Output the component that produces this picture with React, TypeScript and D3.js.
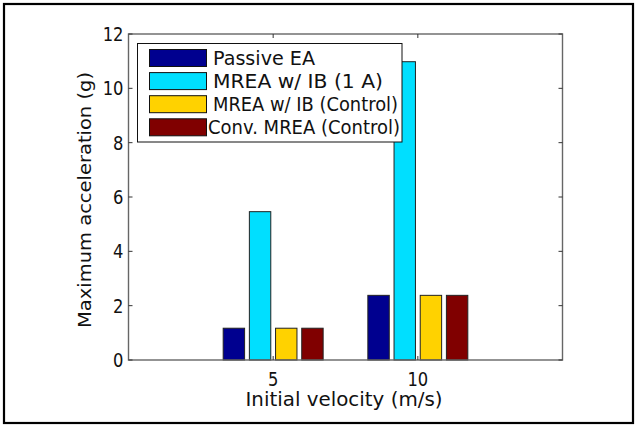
import React from "react";
import * as d3 from "d3";

const categories = [5, 10];
const seriesNames = ["Passive EA", "MREA w/ IB (1 A)", "MREA w/ IB (Control)", "Conv. MREA (Control)"];
const passiveEA = [1.17, 2.38];
const mreaIB1A = [5.46, 10.98];
const mreaIBControl = [1.17, 2.38];
const convMREAControl = [1.17, 2.38];
const seriesValues = [passiveEA, mreaIB1A, mreaIBControl, convMREAControl];
const colors = ["#00008f", "#00dfff", "#ffd200", "#800000"];
const yTicks = [0, 2, 4, 6, 8, 10, 12];
const xTicks = [5, 10];

const W = 637, H = 427;
const left = 128.5, right = 562.5, top = 34, bottom = 360;

export default function App() {
  const x = d3.scaleLinear().domain([0, 15]).range([left, right]);
  const y = d3.scaleLinear().domain([0, 12]).range([bottom, top]);
  const barW = 0.74;
  const step = 0.905;
  const font = "DejaVu Sans, sans-serif";
  const legendTextWidths = [102, 170, 185, 192];
  const legendTextX = [213, 213, 213, 208];
  const digitW = 10.4;
  return (
    <svg width={W} height={H} style={{ position: "absolute", left: 0, top: 0, background: "#fff" }}>
      <rect x={0} y={0} width={W} height={H} fill="#fff" />
      <rect x={4} y={4} width={629} height={419} fill="none" stroke="#000" strokeWidth={2.2} />
      {/* bars */}
      {seriesValues.map((vals, si) =>
        vals.map((v, ci) => {
          const cx = categories[ci] + (si - 1.5) * step;
          const x0 = x(cx - barW / 2);
          const x1 = x(cx + barW / 2);
          return (
            <rect key={`${si}-${ci}`} x={x0} y={y(v)} width={x1 - x0} height={y(0) - y(v)}
              fill={colors[si]} stroke="#222" strokeWidth={1} />
          );
        })
      )}
      {/* axes box */}
      <rect x={left} y={top} width={right - left} height={bottom - top} fill="none" stroke="#666" strokeWidth={1.4} />
      {/* y ticks */}
      {yTicks.map((t) => (
        <g key={"y" + t}>
          <line x1={left} x2={left + 4} y1={y(t)} y2={y(t)} stroke="#333" strokeWidth={1} />
          <line x1={right} x2={right - 4} y1={y(t)} y2={y(t)} stroke="#333" strokeWidth={1} />
          <text x={123.5 - String(t).length * digitW} y={y(t) + 7} fontFamily={font} fontSize={19} fill="#111"
            textLength={String(t).length * digitW} lengthAdjust="spacingAndGlyphs">{t}</text>
        </g>
      ))}
      {/* x ticks */}
      {xTicks.map((t) => (
        <g key={"x" + t}>
          <line x1={x(t)} x2={x(t)} y1={bottom} y2={bottom - 4} stroke="#333" strokeWidth={1} />
          <line x1={x(t)} x2={x(t)} y1={top} y2={top + 4} stroke="#333" strokeWidth={1} />
          <text x={x(t) - (String(t).length * digitW) / 2} y={385.5} fontFamily={font} fontSize={19} fill="#111"
            textLength={String(t).length * digitW} lengthAdjust="spacingAndGlyphs">{t}</text>
        </g>
      ))}
      {/* axis labels */}
      <text x={344} y={406} textAnchor="middle" fontFamily={font} fontSize={19} fill="#111" textLength={197} lengthAdjust="spacingAndGlyphs">Initial velocity (m/s)</text>
      <text transform={`translate(91,200) rotate(-90)`} textAnchor="middle" fontFamily={font} fontSize={18} fill="#111" textLength={256} lengthAdjust="spacingAndGlyphs">Maximum acceleration (g)</text>
      {/* legend */}
      <rect x={137.5} y={43.5} width={264.5} height={98.5} fill="#fff" stroke="#111" strokeWidth={1} />
      {seriesNames.map((n, i) => {
        const cy = 58 + i * 23.1;
        return (
          <g key={n}>
            <rect x={149.5} y={cy - 8.5} width={57} height={17} fill={colors[i]} stroke="#111" strokeWidth={1} />
            <text x={legendTextX[i]} y={cy + 7} fontFamily={font} fontSize={19.5} fill="#111"
              textLength={legendTextWidths[i]} lengthAdjust="spacingAndGlyphs">{n}</text>
          </g>
        );
      })}
    </svg>
  );
}
